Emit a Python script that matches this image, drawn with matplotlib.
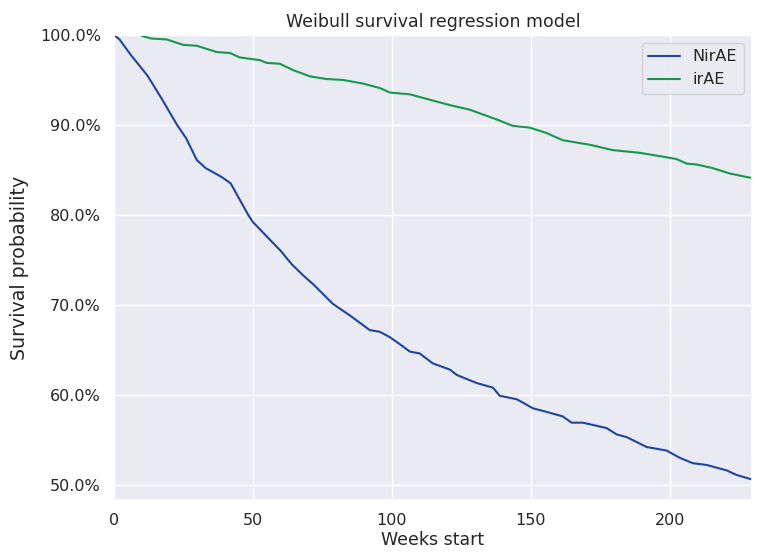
import numpy as np
import matplotlib.pyplot as plt
import seaborn as sns
from matplotlib.ticker import PercentFormatter

# NirAE görbe (hetek, túlélési valószínűség)
nirae_weeks = [0, 2, 6, 12, 17, 22.7, 26, 29.8, 33, 38.8, 42, 48.3, 50, 55, 60, 64, 68,
               72, 78.8, 85, 92, 95.7, 99.3, 103, 106.5, 110, 114.7, 120.9, 123.4,
               130.6, 136.4, 138.8, 145, 150.8, 155.7, 161.5, 164.7, 168.8, 177.3,
               180.9, 184.5, 191.7, 198.9, 203.6, 208.3, 213.3, 220.5, 224, 229.5]
nirae_surv = [1.0, 0.995, 0.978, 0.955, 0.93, 0.90, 0.885, 0.861, 0.852, 0.842, 0.835,
              0.80, 0.792, 0.776, 0.76, 0.745, 0.733, 0.722, 0.701, 0.688, 0.672,
              0.67, 0.664, 0.656, 0.648, 0.646, 0.635, 0.628, 0.622, 0.613, 0.608,
              0.599, 0.595, 0.585, 0.581, 0.576, 0.569, 0.569, 0.563, 0.556, 0.553,
              0.542, 0.538, 0.530, 0.524, 0.522, 0.516, 0.511, 0.506]

# irAE görbe
irae_weeks = [10, 13.5, 19, 24.9, 29.8, 37, 41.7, 45.3, 52.5, 54.9, 59.7, 64.4, 70.5,
              76.6, 82.4, 89.6, 95.7, 99.3, 106.5, 113.7, 120.9, 128, 137.8, 143.5,
              149.6, 155.7, 161.5, 171.2, 179.5, 189.2, 198.9, 202.5, 206.1, 209.7,
              215.5, 221.6, 229.5]
irae_surv = [0.999, 0.996, 0.995, 0.989, 0.988, 0.981, 0.980, 0.975, 0.972, 0.969,
             0.968, 0.961, 0.954, 0.951, 0.950, 0.946, 0.941, 0.936, 0.934, 0.928,
             0.922, 0.917, 0.906, 0.899, 0.897, 0.891, 0.883, 0.878, 0.872, 0.869,
             0.864, 0.862, 0.857, 0.856, 0.852, 0.846, 0.841]

sns.set_theme(style="darkgrid")

fig = plt.figure(figsize=(7.6, 5.55), dpi=100)
ax = fig.add_axes([0.15, 0.099, 0.839, 0.838])

ax.plot(nirae_weeks, nirae_surv, color="#1f45a0", linewidth=1.5, label="NirAE")
ax.plot(irae_weeks, irae_surv, color="#139a4c", linewidth=1.5, label="irAE")

ax.set_xlim(0, 229.5)
ax.set_ylim(0.483, 1.0)
ax.set_xticks([0, 50, 100, 150, 200])
ax.set_yticks([0.5, 0.6, 0.7, 0.8, 0.9, 1.0])
ax.yaxis.set_major_formatter(PercentFormatter(1.0, decimals=1))
ax.tick_params(labelsize=11.5)

ax.set_title("Weibull survival regression model", fontsize=12.5)
ax.set_xlabel("Weeks start", fontsize=12.5, labelpad=2)
ax.set_ylabel("Survival probability", fontsize=13.7, labelpad=8)
ax.legend(loc="upper right", fontsize=11.5)

fig.savefig("out.png", dpi=100)
